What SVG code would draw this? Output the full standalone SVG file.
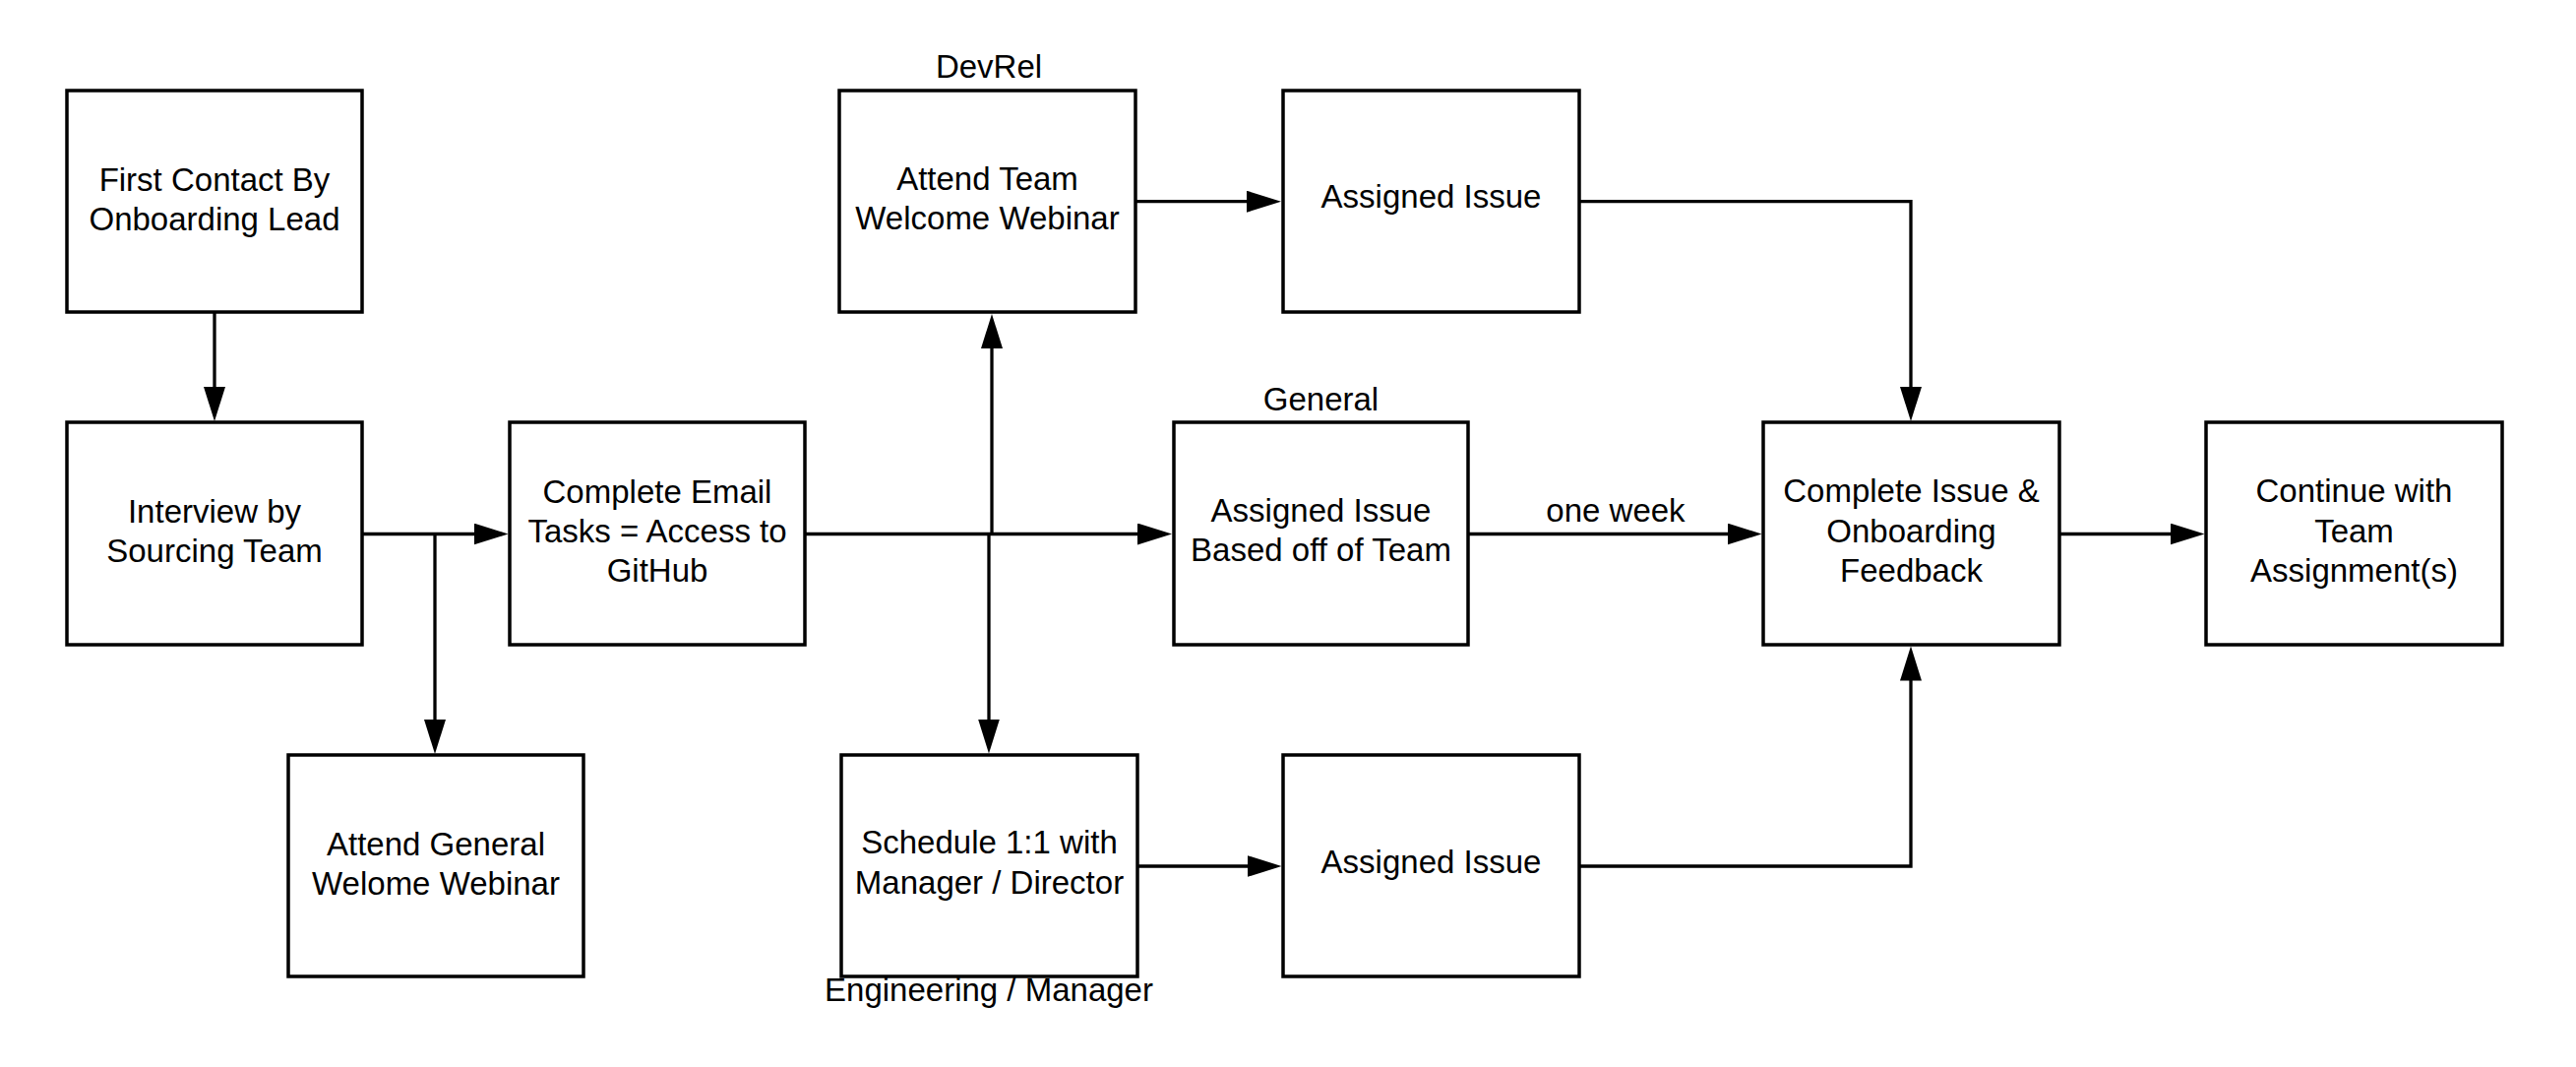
<svg xmlns="http://www.w3.org/2000/svg" width="2618" height="1084" viewBox="0 0 2618 1084">
<style>
.box{fill:#ffffff;stroke:#000000;stroke-width:3.5}
.t{font-family:"Liberation Sans",Arial,sans-serif;font-size:33px;fill:#000000;text-anchor:middle}
.c{fill:none;stroke:#000000;stroke-width:3.3;marker-end:url(#ah)}
.l{fill:none;stroke:#000000;stroke-width:3.3}
</style>
<defs>
<marker id="ah" markerUnits="userSpaceOnUse" markerWidth="35" markerHeight="22" refX="25" refY="11" orient="auto">
<path d="M0,0 L35,11 L0,22 Z" fill="#000000"/>
</marker>
</defs>
<rect width="2618" height="1084" fill="#ffffff"/>
<g id="connectors">
<path class="c" d="M218,317 L218,418"/>
<path class="l" d="M368,542.5 L442,542.5"/>
<path class="c" d="M442,542.5 L506.5,542.5"/>
<path class="c" d="M442,542.5 L442,756"/>
<path class="l" d="M818,542.5 L1008,542.5"/>
<path class="c" d="M1008,542.5 L1181,542.5"/>
<path class="c" d="M1008,542.5 L1008,329"/>
<path class="c" d="M1005,542.5 L1005,755.5"/>
<path class="c" d="M1154,204.7 L1292,204.7"/>
<path class="c" d="M1605,204.7 L1942,204.7 L1942,418"/>
<path class="c" d="M1492,542.5 L1780.5,542.5"/>
<path class="c" d="M2093,542.5 L2230.5,542.5"/>
<path class="c" d="M1156,880 L1292.5,880"/>
<path class="c" d="M1605,880 L1942,880 L1942,666.5"/>
<text class="t" x="1642" y="530">one week</text>
</g>
<g id="n1">
<rect class="box" x="68" y="92" width="300" height="225"/>
<text class="t" x="218" y="194">First Contact By</text>
<text class="t" x="218" y="234">Onboarding Lead</text>
</g>
<g id="n2">
<rect class="box" x="68" y="429" width="300" height="226"/>
<text class="t" x="218" y="531">Interview by</text>
<text class="t" x="218" y="571">Sourcing Team</text>
</g>
<g id="n3">
<rect class="box" x="518" y="429" width="300" height="226"/>
<text class="t" x="668" y="511">Complete Email</text>
<text class="t" x="668" y="551">Tasks = Access to</text>
<text class="t" x="668" y="591">GitHub</text>
</g>
<g id="n4">
<rect class="box" x="293" y="767" width="300" height="225"/>
<text class="t" x="443" y="869">Attend General</text>
<text class="t" x="443" y="909">Welome Webinar</text>
</g>
<g id="n5">
<rect class="box" x="853" y="92" width="301" height="225"/>
<text class="t" x="1005" y="79">DevRel</text>
<text class="t" x="1003.5" y="193">Attend Team</text>
<text class="t" x="1003.5" y="233">Welcome Webinar</text>
</g>
<g id="n6">
<rect class="box" x="1304" y="92" width="301" height="225"/>
<text class="t" x="1454.5" y="211">Assigned Issue</text>
</g>
<g id="n7">
<rect class="box" x="1193" y="429" width="299" height="226"/>
<text class="t" x="1342.5" y="417">General</text>
<text class="t" x="1342.5" y="530">Assigned Issue</text>
<text class="t" x="1342.5" y="570">Based off of Team</text>
</g>
<g id="n8">
<rect class="box" x="855" y="767" width="301" height="225"/>
<text class="t" x="1005.5" y="867">Schedule 1:1 with</text>
<text class="t" x="1005.5" y="908">Manager / Director</text>
<text class="t" x="1005" y="1017">Engineering / Manager</text>
</g>
<g id="n9">
<rect class="box" x="1304" y="767" width="301" height="225"/>
<text class="t" x="1454.5" y="887">Assigned Issue</text>
</g>
<g id="n10">
<rect class="box" x="1792" y="429" width="301" height="226"/>
<text class="t" x="1942.5" y="510">Complete Issue &amp;</text>
<text class="t" x="1942.5" y="551">Onboarding</text>
<text class="t" x="1942.5" y="591">Feedback</text>
</g>
<g id="n11">
<rect class="box" x="2242" y="429" width="301" height="226"/>
<text class="t" x="2392.5" y="510">Continue with</text>
<text class="t" x="2392.5" y="551">Team</text>
<text class="t" x="2392.5" y="591">Assignment(s)</text>
</g>
</svg>
